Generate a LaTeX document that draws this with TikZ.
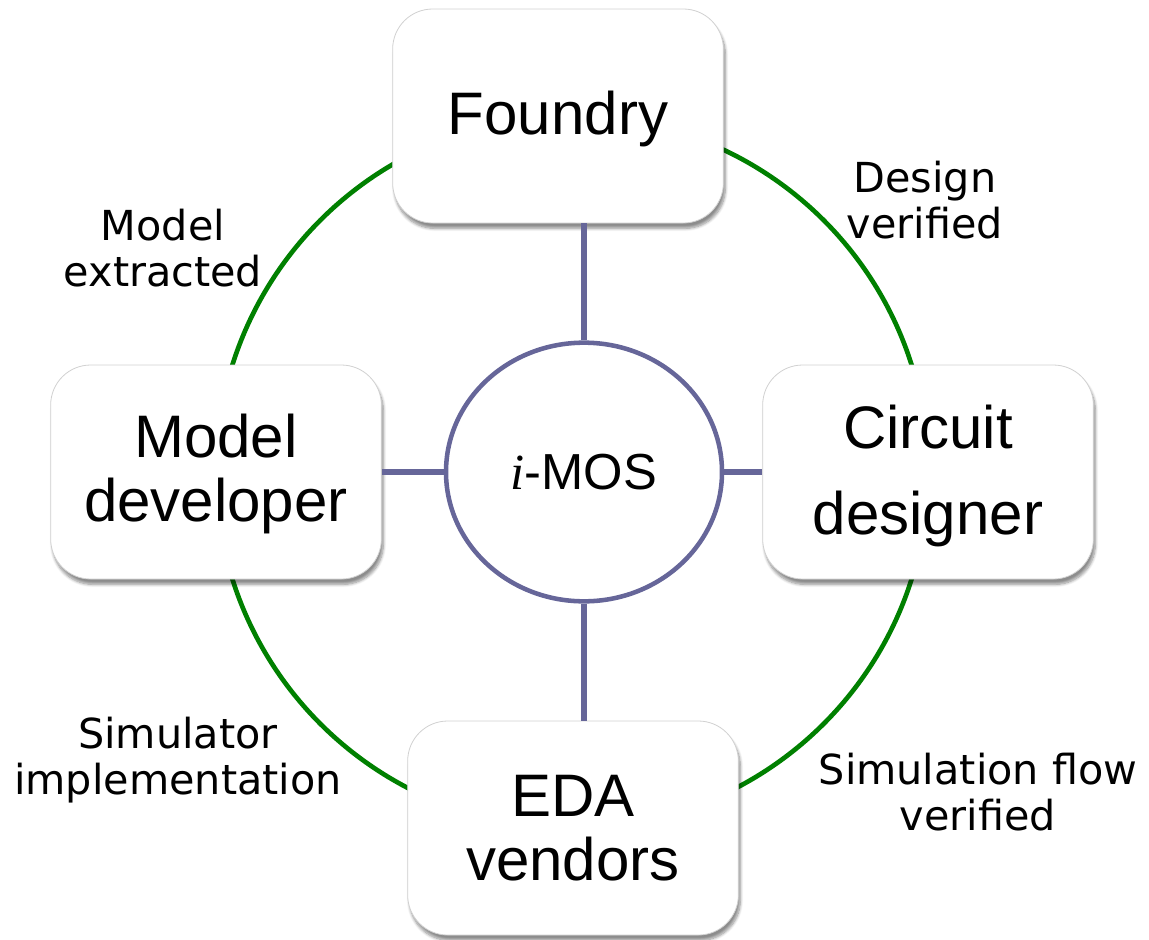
\documentclass[tikz,border=0pt]{standalone}
\usepackage{fontspec}
\setmainfont{Liberation Sans}
\newfontfamily\labelfont{DejaVu Sans}
\newfontfamily\ifont{Liberation Serif}
\usetikzlibrary{shapes.geometric,shadows.blur}
\definecolor{hubline}{RGB}{102,102,153}
\definecolor{ringgreen}{RGB}{0,128,0}
% lower a box's contents without changing the size the node sees
\newcommand{\lowerby}[2]{\raisebox{-#1}[\height][\depth]{#2}}
\tikzset{
  rolebox/.style={draw=black!18, line width=0.6pt, fill=white, rounded corners=30pt,
    minimum width=248pt, minimum height=160.5pt, align=center,
    font=\fontsize{45}{47.5}\selectfont,
    blur shadow={shadow xshift=1.5pt, shadow yshift=-4pt, shadow blur steps=8, shadow opacity=45}},
  hub/.style={ellipse, draw=hubline, line width=3.4pt, fill=white,
    minimum width=207pt, minimum height=194pt, inner sep=0pt,
    font=\fontsize{38}{40}\selectfont},
  spoke/.style={draw=hubline, line width=4pt},
  ring/.style={draw=ringgreen, line width=3.5pt},
  steplabel/.style={align=center, font=\labelfont\fontsize{31}{35}\selectfont}
}
\begin{document}
\begin{tikzpicture}[x=0.75pt, y=-0.75pt]
  \useasboundingbox (0,0) rectangle (1149,939);
  % outer green ring behind the boxes
  \coordinate (ringc) at (572,472);
  \draw[ring] (ringc) circle [radius=267pt];

  % central hub
  \node[hub] (imos) at (584,472) {{\ifont\itshape i}-MOS};

  % four partners
  \node[rolebox] (foundry) at (558,116) {\lowerby{2pt}{Foundry}};
  \node[rolebox] (model) at (216,472) {\lowerby{3.5pt}{\begin{tabular}{@{}c@{}}Model\\developer\end{tabular}}};
  \node[rolebox, font=\fontsize{45}{65}\selectfont] (circuit) at (928,472) {\lowerby{1.5pt}{\begin{tabular}{@{}c@{}}Circuit\\designer\end{tabular}}};
  \node[rolebox] (eda) at (573,828) {EDA\\vendors};

  % spokes from the hub to each partner
  \draw[spoke] (imos.north) -- (imos.north |- foundry.south);
  \draw[spoke] (imos.south) -- (imos.south |- eda.north);
  \draw[spoke] (imos.west) -- (imos.west -| model.east);
  \draw[spoke] (imos.east) -- (imos.east -| circuit.west);

  % labels along the ring
  \node[steplabel] (l1) at (163,248) {Model\\extracted};
  \node[steplabel] (l2) at (925,200) {Design\\verified};
  \node[steplabel] (l3) at (178,760) {Simulator\\implementation};
  \node[steplabel] (l4) at (978,792) {Simulation flow\\verified};
\end{tikzpicture}
\end{document}
